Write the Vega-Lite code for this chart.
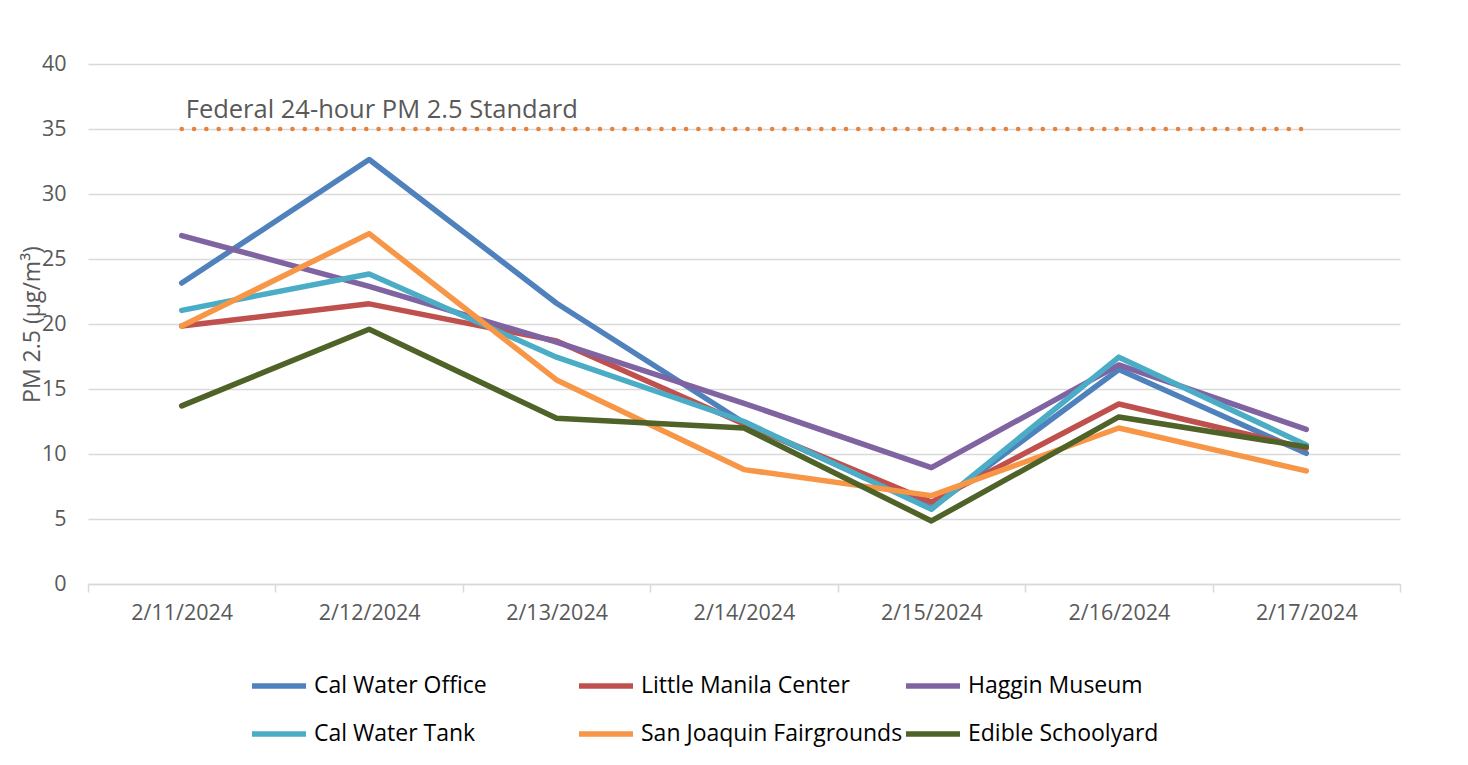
{
  "$schema": "https://vega.github.io/schema/vega-lite/v6.json",
  "width": 1312,
  "height": 520,
  "autosize": {"type": "none"},
  "padding": {"left": 88, "top": 64, "right": 68, "bottom": 181},
  "background": "white",
  "config": {
    "view": {"stroke": null},
    "font": "Open Sans"
  },
  "datasets": {
    "pm": [
      {"date": "2/11/2024", "site": "Cal Water Office", "pm": 23.15},
      {"date": "2/12/2024", "site": "Cal Water Office", "pm": 32.65},
      {"date": "2/13/2024", "site": "Cal Water Office", "pm": 21.6},
      {"date": "2/14/2024", "site": "Cal Water Office", "pm": 12.4},
      {"date": "2/15/2024", "site": "Cal Water Office", "pm": 5.85},
      {"date": "2/16/2024", "site": "Cal Water Office", "pm": 16.5},
      {"date": "2/17/2024", "site": "Cal Water Office", "pm": 10.05},
      {"date": "2/11/2024", "site": "Little Manila Center", "pm": 19.85},
      {"date": "2/12/2024", "site": "Little Manila Center", "pm": 21.55},
      {"date": "2/13/2024", "site": "Little Manila Center", "pm": 18.7},
      {"date": "2/14/2024", "site": "Little Manila Center", "pm": 12.3},
      {"date": "2/15/2024", "site": "Little Manila Center", "pm": 6.3},
      {"date": "2/16/2024", "site": "Little Manila Center", "pm": 13.85},
      {"date": "2/17/2024", "site": "Little Manila Center", "pm": 10.45},
      {"date": "2/11/2024", "site": "Haggin Museum", "pm": 26.8},
      {"date": "2/12/2024", "site": "Haggin Museum", "pm": 22.9},
      {"date": "2/13/2024", "site": "Haggin Museum", "pm": 18.6},
      {"date": "2/14/2024", "site": "Haggin Museum", "pm": 13.9},
      {"date": "2/15/2024", "site": "Haggin Museum", "pm": 8.95},
      {"date": "2/16/2024", "site": "Haggin Museum", "pm": 16.85},
      {"date": "2/17/2024", "site": "Haggin Museum", "pm": 11.9},
      {"date": "2/11/2024", "site": "Cal Water Tank", "pm": 21.05},
      {"date": "2/12/2024", "site": "Cal Water Tank", "pm": 23.85},
      {"date": "2/13/2024", "site": "Cal Water Tank", "pm": 17.45},
      {"date": "2/14/2024", "site": "Cal Water Tank", "pm": 12.5},
      {"date": "2/15/2024", "site": "Cal Water Tank", "pm": 5.75},
      {"date": "2/16/2024", "site": "Cal Water Tank", "pm": 17.45},
      {"date": "2/17/2024", "site": "Cal Water Tank", "pm": 10.7},
      {"date": "2/11/2024", "site": "San Joaquin Fairgrounds", "pm": 19.85},
      {"date": "2/12/2024", "site": "San Joaquin Fairgrounds", "pm": 26.95},
      {"date": "2/13/2024", "site": "San Joaquin Fairgrounds", "pm": 15.7},
      {"date": "2/14/2024", "site": "San Joaquin Fairgrounds", "pm": 8.8},
      {"date": "2/15/2024", "site": "San Joaquin Fairgrounds", "pm": 6.8},
      {"date": "2/16/2024", "site": "San Joaquin Fairgrounds", "pm": 12.0},
      {"date": "2/17/2024", "site": "San Joaquin Fairgrounds", "pm": 8.7},
      {"date": "2/11/2024", "site": "Edible Schoolyard", "pm": 13.7},
      {"date": "2/12/2024", "site": "Edible Schoolyard", "pm": 19.6},
      {"date": "2/13/2024", "site": "Edible Schoolyard", "pm": 12.75},
      {"date": "2/14/2024", "site": "Edible Schoolyard", "pm": 12.0},
      {"date": "2/15/2024", "site": "Edible Schoolyard", "pm": 4.85},
      {"date": "2/16/2024", "site": "Edible Schoolyard", "pm": 12.85},
      {"date": "2/17/2024", "site": "Edible Schoolyard", "pm": 10.55}
    ],
    "std": [
      {"date": "2/11/2024", "value": 35, "label": "Federal 24-hour PM 2.5 Standard"},
      {"date": "2/12/2024", "value": 35, "label": ""},
      {"date": "2/13/2024", "value": 35, "label": ""},
      {"date": "2/14/2024", "value": 35, "label": ""},
      {"date": "2/15/2024", "value": 35, "label": ""},
      {"date": "2/16/2024", "value": 35, "label": ""},
      {"date": "2/17/2024", "value": 35, "label": ""}
    ]
  },
  "layer": [
    {
      "data": {"name": "std"},
      "mark": {"type": "line", "color": "#e8823a", "strokeWidth": 4.5, "strokeDash": [0.1, 12.2], "strokeCap": "round"},
      "encoding": {
        "x": {
          "field": "date", "type": "nominal", "bandPosition": 0.5,
          "scale": {"type": "band", "paddingInner": 0, "paddingOuter": 0},
          "axis": {
            "title": null, "labelAngle": 0, "labelFontSize": 21.5, "labelColor": "#595959",
            "labelPadding": 10, "ticks": true, "tickBand": "extent", "tickSize": 8,
            "tickColor": "#d9d9d9", "tickWidth": 1.5, "domainColor": "#d9d9d9", "domainWidth": 1.5,
            "grid": false
          }
        },
        "y": {
          "field": "value", "type": "quantitative",
          "scale": {"domain": [0, 40]},
          "axis": {
            "values": [0, 5, 10, 15, 20, 25, 30, 35, 40],
            "title": "PM 2.5 (µg/m³)", "titleFontSize": 23, "titleFontWeight": "normal",
            "titleColor": "#595959", "titleX": -56, "titleY": 260, "titleAlign": "center",
            "titleBaseline": "middle", "titleAngle": -90,
            "labelFontSize": 21.5, "labelColor": "#595959", "labelPadding": 22,
            "domain": false, "ticks": false, "grid": true, "gridColor": "#d9d9d9", "gridWidth": 1.5
          }
        }
      }
    },
    {
      "data": {"name": "std"},
      "mark": {"type": "text", "align": "left", "baseline": "middle", "dx": 4, "dy": -19, "fontSize": 25.5, "color": "#595959"},
      "encoding": {
        "x": {"field": "date", "type": "nominal", "bandPosition": 0.5},
        "y": {"field": "value", "type": "quantitative"},
        "text": {"field": "label"}
      }
    },
    {
      "data": {"name": "pm"},
      "mark": {"type": "line", "strokeWidth": 5.5, "strokeCap": "round", "strokeJoin": "round"},
      "encoding": {
        "x": {"field": "date", "type": "nominal", "bandPosition": 0.5},
        "y": {"field": "pm", "type": "quantitative"},
        "color": {
          "field": "site", "type": "nominal",
          "scale": {
            "domain": ["Cal Water Office", "Little Manila Center", "Haggin Museum", "Cal Water Tank", "San Joaquin Fairgrounds", "Edible Schoolyard"],
            "range": ["#4f81bd", "#c0504d", "#8064a2", "#4bacc6", "#f79646", "#4f6228"]
          },
          "legend": {
            "title": null, "orient": "none", "legendX": 161, "legendY": 592,
            "direction": "horizontal", "columns": 3, "gridAlign": "all",
            "columnPadding": -8, "rowPadding": 6,
            "symbolType": "stroke", "symbolSize": 2916, "symbolStrokeWidth": 5.5,
            "labelFont": "Open Sans", "labelFontSize": 23, "labelColor": "#000000",
            "labelOffset": 5, "labelLimit": 400
          }
        }
      }
    }
  ]
}
